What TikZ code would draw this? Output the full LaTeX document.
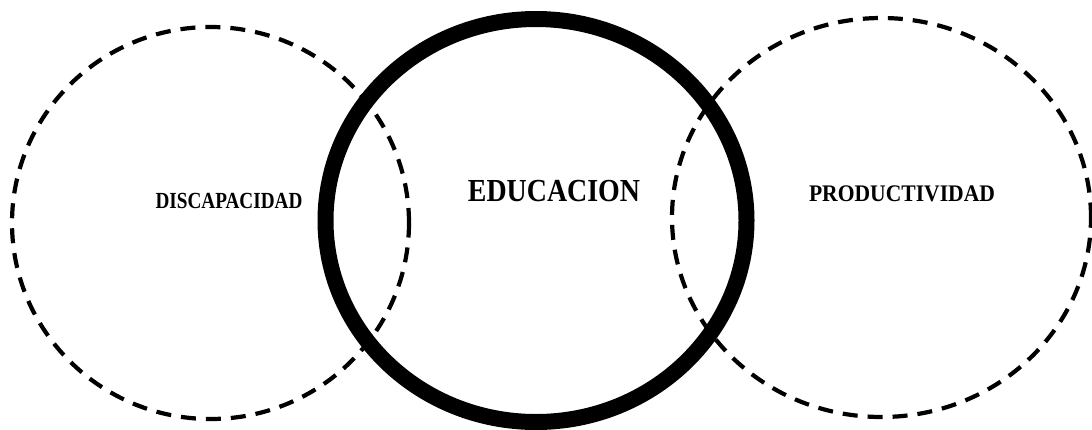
\documentclass[tikz,border=0pt]{standalone}
\usepackage{fontspec}
\setmainfont{Liberation Serif}
\usetikzlibrary{shapes.geometric}
\tikzset{
  dashring/.style={ellipse, draw=black, line width=4.2pt, dash pattern=on 15pt off 10pt, inner sep=0pt},
  thickring/.style={ellipse, draw=black, line width=16pt, inner sep=0pt},
  lbl/.style={text=black, inner sep=0pt}
}
\begin{document}
\begin{tikzpicture}[x=1pt,y=-1pt]
\useasboundingbox (0,0) rectangle (1092,429);
\node[dashring, minimum width=397pt, minimum height=392pt] (disc) at (210.5,223) {};
\node[dashring, minimum width=419pt, minimum height=399pt] (prod) at (881.5,217.5) {};
\node[thickring, minimum width=421pt, minimum height=403pt] (edu) at (536,220.5) {};
\node[lbl] (tdisc) at (229,200.5) {\scalebox{1}[1.2]{\fontsize{19.2}{22}\selectfont\bfseries DISCAPACIDAD}};
\node[lbl] (tedu) at (554,191.5) {\scalebox{1}[1.15]{\fontsize{27.9}{32}\selectfont\bfseries EDUCACION}};
\node[lbl] (tprod) at (902,194) {\scalebox{1}[1.1]{\fontsize{21.6}{25}\selectfont\bfseries PRODUCTIVIDAD}};
\end{tikzpicture}
\end{document}
